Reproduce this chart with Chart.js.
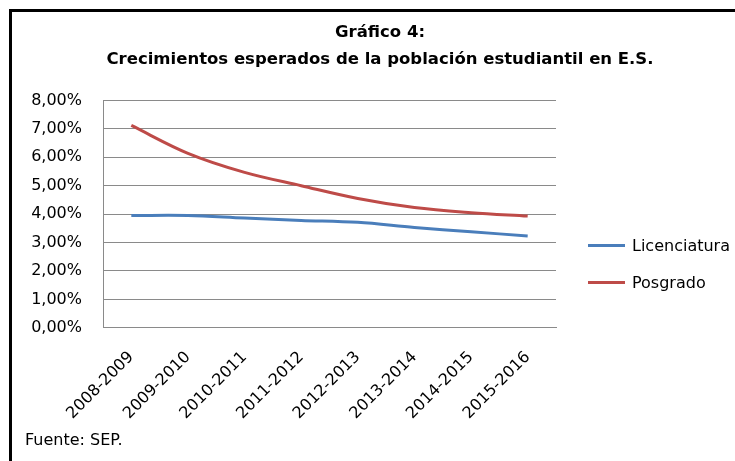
<!DOCTYPE html>
<html>
<head>
<meta charset="utf-8">
<script src="https://cdn.jsdelivr.net/npm/chart.js@4.4.1/dist/chart.umd.min.js"></script>
<style>
  html, body { margin: 0; padding: 0; background: #fff; overflow: hidden; width: 735px; height: 461px; }
  #frame { position: absolute; left: 9px; top: 9px; width: 900px; height: 600px; border: 3px solid #000; }
  #c { position: absolute; left: 0; top: 0; }
  #leyenda { position: absolute; left: 588px; top: 227px; font: 16px 'DejaVu Sans', sans-serif; color: #000; white-space: nowrap; }
  #leyenda .item { display: flex; align-items: center; height: 37px; }
  #leyenda .linea { width: 37px; height: 3px; margin-right: 7px; }
</style>
</head>
<body>
<div id="frame"></div>
<canvas id="c" width="735" height="461"></canvas>
<div id="leyenda"></div>
<script>
// datos del gráfico
const periodos = ['2008-2009','2009-2010','2010-2011','2011-2012','2012-2013','2013-2014','2014-2015','2015-2016'];
const licenciatura = [3.95, 3.95, 3.86, 3.78, 3.71, 3.53, 3.38, 3.23];
const posgrado = [7.12, 6.14, 5.47, 5.00, 4.55, 4.23, 4.05, 3.93];
const titulo = ['Gráfico 4:', 'Crecimientos esperados de la población estudiantil en E.S.'];
const fuente = 'Fuente: SEP.';

const FONT = "'DejaVu Sans', sans-serif";
const GRID = '#8a8a8a';

// leyenda html a partir de los datasets
const htmlLegend = {
  id: 'htmlLegend',
  afterUpdate(chart) {
    const box = document.getElementById('leyenda');
    box.innerHTML = '';
    chart.data.datasets.forEach(ds => {
      const item = document.createElement('div');
      item.className = 'item';
      const linea = document.createElement('span');
      linea.className = 'linea';
      linea.style.background = ds.borderColor;
      const txt = document.createElement('span');
      txt.textContent = ds.label;
      item.appendChild(linea);
      item.appendChild(txt);
      box.appendChild(item);
    });
  }
};

new Chart(document.getElementById('c'), {
  type: 'line',
  data: {
    labels: periodos,
    datasets: [
      { label: 'Licenciatura', data: licenciatura, borderColor: '#4A7EBB', backgroundColor: '#4A7EBB' },
      { label: 'Posgrado', data: posgrado, borderColor: '#BE4B48', backgroundColor: '#BE4B48' }
    ].map(d => ({ ...d, borderWidth: 3, pointRadius: 0, tension: 0.35, fill: false }))
  },
  plugins: [htmlLegend],
  options: {
    responsive: false,
    animation: false,
    layout: { padding: { left: 25 } },
    plugins: {
      title: {
        display: true, text: titulo, color: '#000',
        font: { family: FONT, size: 16.5, weight: 'bold', lineHeight: 1.65 },
        padding: { top: 19, bottom: 27 }
      },
      subtitle: {
        display: true, text: fuente, position: 'bottom', align: 'start', color: '#000',
        font: { family: FONT, size: 16 }, padding: { top: 6, bottom: 11 }
      },
      legend: { display: false },
      tooltip: { enabled: false }
    },
    scales: {
      x: {
        offset: true,
        afterFit: s => { s.height = 97; },
        grid: { display: false, drawTicks: false },
        border: { color: GRID },
        ticks: { color: '#000', font: { family: FONT, size: 16 }, minRotation: 45, maxRotation: 45, padding: 20 }
      },
      y: {
        min: 0, max: 8,
        afterFit: s => { s.width = 78; },
        grid: { color: GRID, drawTicks: false },
        border: { color: GRID },
        ticks: {
          stepSize: 1, color: '#000', font: { family: FONT, size: 16 }, padding: 21,
          callback: v => v.toFixed(2).replace('.', ',') + '%'
        }
      },
      hueco: {
        position: 'right', display: true,
        afterFit: s => { s.width = 179; },
        grid: { display: false, drawTicks: false },
        border: { display: false },
        ticks: { display: false }
      }
    }
  }
});
</script>
</body>
</html>
